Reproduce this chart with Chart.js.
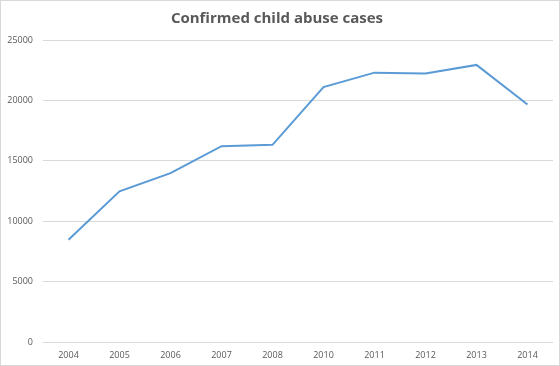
<!DOCTYPE html>
<html>
<head>
<meta charset="utf-8">
<script src="https://cdn.jsdelivr.net/npm/chart.js@4.4.0/dist/chart.umd.min.js"></script>
<style>
  html, body { margin: 0; padding: 0; background: #fff; }
  #wrap { position: relative; width: 558px; height: 364px; border: 1px solid #d9d9d9; }
</style>
</head>
<body>
<div id="wrap"><canvas id="chart" width="558" height="364"></canvas></div>
<script>
const years = ['2004', '2005', '2006', '2007', '2008', '2010', '2011', '2012', '2013', '2014'];
const cases = [8470, 12480, 13990, 16220, 16330, 21100, 22300, 22220, 22940, 19660];
const yTicks = [0, 5000, 10000, 15000, 20000, 25000];

const ctx = document.getElementById('chart').getContext('2d');
const myChart = new Chart(ctx, {
  type: 'line',
  data: {
    labels: years,
    datasets: [{
      label: 'Confirmed child abuse cases',
      data: cases,
      borderColor: '#5b9bd5',
      backgroundColor: '#5b9bd5',
      borderWidth: 2,
      pointRadius: 0,
      tension: 0,
      fill: false
    }]
  },
  options: {
    responsive: false,
    animation: false,
    layout: { padding: { left: 0, right: 6, top: 0, bottom: 4 } },
    plugins: {
      legend: { display: false },
      tooltip: { enabled: false },
      title: {
        display: true,
        text: 'Confirmed child abuse cases',
        color: '#595959',
        font: { family: 'Open Sans', size: 15, weight: 'bold' },
        padding: { top: 9, bottom: 12 }
      }
    },
    scales: {
      x: {
        offset: true,
        grid: { display: false },
        border: { display: false },
        ticks: {
          color: '#595959',
          font: { family: 'Open Sans', size: 9 },
          maxRotation: 0,
          padding: 0
        }
      },
      y: {
        min: yTicks[0],
        max: yTicks[yTicks.length - 1],
        grid: { color: '#d9d9d9', lineWidth: 1, drawTicks: false },
        border: { display: false },
        afterBuildTicks: function(scale) {
          scale.ticks = yTicks.map(v => ({ value: v }));
        },
        afterFit: function(scale) { scale.width = 42; },
        ticks: {
          color: '#595959',
          font: { family: 'Open Sans', size: 9 },
          padding: 10,
          callback: function(value) { return String(value); }
        }
      }
    }
  }
});
</script>
</body>
</html>
